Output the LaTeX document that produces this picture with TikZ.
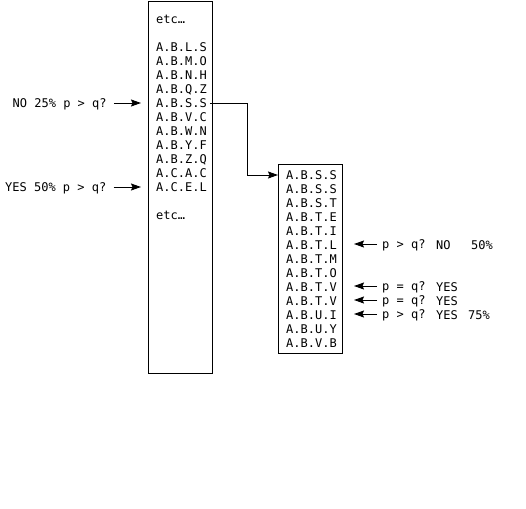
\documentclass[tikz,border=0pt]{standalone}
\usepackage{fontspec}
\setmonofont{DejaVu Sans Mono}
\usetikzlibrary{arrows.meta}
\begin{document}
\begin{tikzpicture}[x=1pt,y=-1pt,
  every node/.style={font=\ttfamily\fontsize{12pt}{14pt}\selectfont, inner sep=0pt, text height=8.75pt, text depth=0pt},
  boxnode/.style={draw, line width=1pt, inner sep=0pt, anchor=north west},
  row/.style={anchor=west},
  lbl/.style={anchor=west},
  arr/.style={line width=1pt, -{Stealth[length=10pt,width=7pt,inset=1.5pt]}},
  link/.style={line width=1pt}
]
\useasboundingbox (0,0) rectangle (526,508);
% left box
\node[boxnode, minimum width=64pt, minimum height=372pt] (LB) at (148,1) {};
\node[row] (Le1) at (156,19) {etc…};
\foreach \t [count=\i] in {A.B.L.S,A.B.M.O,A.B.N.H,A.B.Q.Z,A.B.S.S,A.B.V.C,A.B.W.N,A.B.Y.F,A.B.Z.Q,A.C.A.C,A.C.E.L}
  \node[row] (L\i) at (156,{47+14*(\i-1)}) {\t};
\node[row] (Le2) at (156,215) {etc…};
% right box
\node[boxnode, minimum width=64pt, minimum height=189pt] (RB) at (278,163.5) {};
\foreach \t [count=\i] in {A.B.S.S,A.B.S.S,A.B.S.T,A.B.T.E,A.B.T.I,A.B.T.L,A.B.T.M,A.B.T.O,A.B.T.V,A.B.T.V,A.B.U.I,A.B.U.Y,A.B.V.B}
  \node[row] (R\i) at (286,{175+14*(\i-1)}) {\t};
% left labels
\node[lbl] (la) at (12.5,103) {NO 25\% p > q?};
\node[lbl] (lb) at (5,187) {YES 50\% p > q?};
\draw[arr] ([xshift=7pt]la.east) -- ([xshift=-7pt]la.east -| LB.west);
\draw[arr] ([xshift=7pt]lb.east) -- ([xshift=-7pt]lb.east -| LB.west);
% link
\draw[arr] ([xshift=3pt]L5.east) -- ++(38,0) |- (R1.west -| RB.west);
% right labels
\node[lbl] (ra) at (382,244) {p > q?};
\node[lbl] (rb) at (382,286) {p = q?};
\node[lbl] (rc) at (382,300) {p = q?};
\node[lbl] (rd) at (382,314) {p > q?};
\node[lbl] (ya) at (436,245) {NO};
\node[lbl] (yb) at (436,287) {YES};
\node[lbl] (yc) at (436,301) {YES};
\node[lbl] (yd) at (436,315) {YES};
\node[lbl] (pa) at (471,245) {50\%};
\node[lbl] (pd) at (468,315) {75\%};
\draw[arr] ([xshift=-5pt]ra.west) -- ([xshift=11pt]ra.west -| RB.east);
\draw[arr] ([xshift=-5pt]rb.west) -- ([xshift=11pt]rb.west -| RB.east);
\draw[arr] ([xshift=-5pt]rc.west) -- ([xshift=11pt]rc.west -| RB.east);
\draw[arr] ([xshift=-5pt]rd.west) -- ([xshift=11pt]rd.west -| RB.east);
\end{tikzpicture}
\end{document}
